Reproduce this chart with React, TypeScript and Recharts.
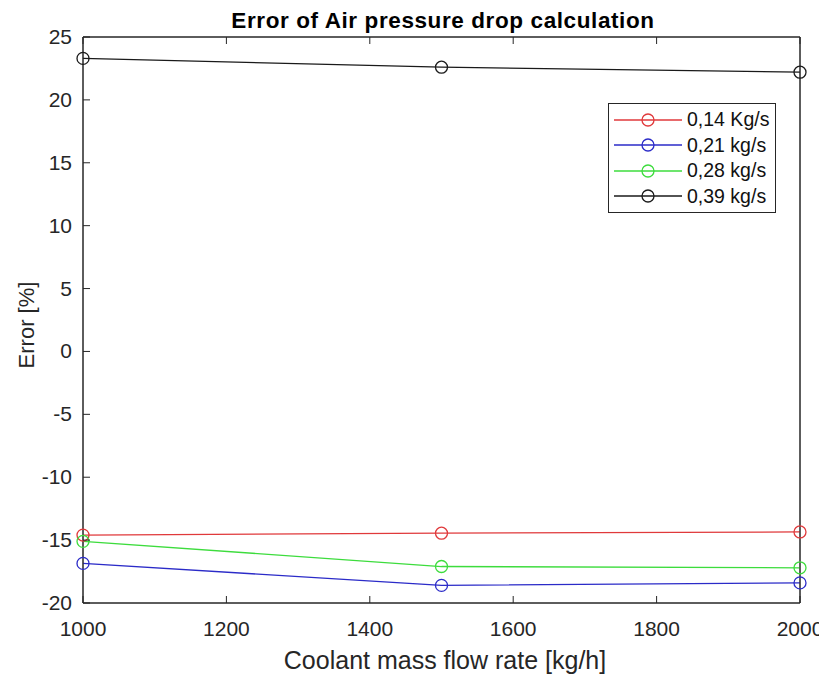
import { Legend, Line, LineChart, ReferenceArea, XAxis, YAxis } from "recharts";

// coolant flow [kg/h] and error [%] per air mass flow
const flowRates = [1000, 1500, 2000];
const err014 = [-14.6, -14.45, -14.35];
const err021 = [-16.85, -18.6, -18.4];
const err028 = [-15.1, -17.1, -17.2];
const err039 = [23.3, 22.6, 22.2];

const xTicks = [1000, 1200, 1400, 1600, 1800, 2000];
const yTicks = [-20, -15, -10, -5, 0, 5, 10, 15, 20, 25];

const series = [
  { key: "a", name: "0,14 Kg/s", color: "#e0393b", values: err014 },
  { key: "b", name: "0,21 kg/s", color: "#2b2bc8", values: err021 },
  { key: "c", name: "0,28 kg/s", color: "#3ddc3d", values: err028 },
  { key: "d", name: "0,39 kg/s", color: "#1a1a1a", values: err039 },
];

const data = flowRates.map((x, i) => {
  const row: Record<string, number> = { x };
  series.forEach((s) => (row[s.key] = s.values[i]));
  return row;
});

const FONT = "'Liberation Sans', Arial, sans-serif";
const INK = "#262626";
const TICK_LEN = 7;

function BottomTick({ x, y, payload }: any) {
  return (
    <g>
      <line x1={x} x2={x} y1={y} y2={y - TICK_LEN} stroke={INK} strokeWidth={1} />
      <text x={x} y={y + 33} textAnchor="middle" fill={INK} fontSize={21} fontFamily={FONT}>
        {payload.value}
      </text>
    </g>
  );
}

function TopTick({ x, y }: any) {
  return <line x1={x} x2={x} y1={y} y2={y + TICK_LEN} stroke={INK} strokeWidth={1} />;
}

function LeftTick({ x, y, payload }: any) {
  return (
    <g>
      <line x1={x} x2={x + TICK_LEN} y1={y} y2={y} stroke={INK} strokeWidth={1} />
      <text x={x - 11} y={y + 7} textAnchor="end" fill={INK} fontSize={21} fontFamily={FONT}>
        {payload.value}
      </text>
    </g>
  );
}

function RightTick({ x, y }: any) {
  return <line x1={x} x2={x - TICK_LEN} y1={y} y2={y} stroke={INK} strokeWidth={1} />;
}

function LegendBox() {
  return (
    <div
      style={{
        border: `1px solid ${INK}`,
        background: "#fff",
        padding: "3px 4px",
        fontFamily: FONT,
        fontSize: 19.5,
        color: "#111",
      }}
    >
      {series.map((s) => (
        <div key={s.key} style={{ display: "flex", alignItems: "center", height: 25.5 }}>
          <svg width={70} height={20} style={{ marginRight: 4 }}>
            <line x1={1} x2={69} y1={10} y2={10} stroke={s.color} strokeWidth={1.3} />
            <circle cx={35} cy={10} r={6} fill="none" stroke={s.color} strokeWidth={1.3} />
          </svg>
          <span>{s.name}</span>
        </div>
      ))}
    </div>
  );
}

export default function App() {
  return (
    <div style={{ position: "relative", width: 819, height: 667, background: "#fff" }}>
      <LineChart width={819} height={667} data={data} margin={{ top: 9, right: 7, bottom: 32, left: 15 }}>
        <XAxis
          dataKey="x"
          type="number"
          domain={[1000, 2000]}
          ticks={xTicks}
          height={40}
          tickSize={0}
          tickMargin={0}
          axisLine={{ stroke: INK, strokeWidth: 1 }}
          tick={<BottomTick />}
        />
        <XAxis
          xAxisId="top"
          orientation="top"
          dataKey="x"
          type="number"
          domain={[1000, 2000]}
          ticks={xTicks}
          height={20}
          tickSize={0}
          tickMargin={0}
          axisLine={{ stroke: INK, strokeWidth: 1 }}
          tick={<TopTick />}
        />
        <YAxis
          type="number"
          domain={[-20, 25]}
          ticks={yTicks}
          width={60}
          tickSize={0}
          tickMargin={0}
          axisLine={{ stroke: INK, strokeWidth: 1 }}
          tick={<LeftTick />}
        />
        <YAxis
          yAxisId="right"
          orientation="right"
          type="number"
          domain={[-20, 25]}
          ticks={yTicks}
          width={20}
          tickSize={0}
          tickMargin={0}
          axisLine={{ stroke: INK, strokeWidth: 1 }}
          tick={<RightTick />}
        />
        <ReferenceArea x1={1000} x2={2000} y1={-20} y2={25} fill="none" stroke={INK} strokeWidth={1} />
        <Legend
          layout="horizontal"
          verticalAlign="middle"
          align="center"
          content={<LegendBox />}
          wrapperStyle={{ position: "absolute", left: 600, top: 95, width: 168 }}
        />
        {series.map((s) => (
          <Line
            key={s.key}
            dataKey={s.key}
            name={s.name}
            stroke={s.color}
            strokeWidth={1.3}
            dot={{ r: 6, fill: "none", stroke: s.color, strokeWidth: 1.3 }}
            activeDot={false}
            isAnimationActive={false}
          />
        ))}
      </LineChart>
      <svg
        width={819}
        height={667}
        style={{ position: "absolute", left: 0, top: 0, pointerEvents: "none" }}
      >
        <text
          x={435}
          y={20}
          textAnchor="middle"
          fill="#000"
          fontSize={22.5}
          letterSpacing={0.6}
          fontWeight="bold"
          fontFamily={FONT}
        >
          Error of Air pressure drop calculation
        </text>
        <text x={437} y={661} textAnchor="middle" fill={INK} fontSize={25} fontFamily={FONT}>
          Coolant mass flow rate [kg/h]
        </text>
        <text
          transform="translate(26 317) rotate(-90)"
          textAnchor="middle"
          fill={INK}
          fontSize={22}
          fontFamily={FONT}
        >
          Error [%]
        </text>
      </svg>
    </div>
  );
}
